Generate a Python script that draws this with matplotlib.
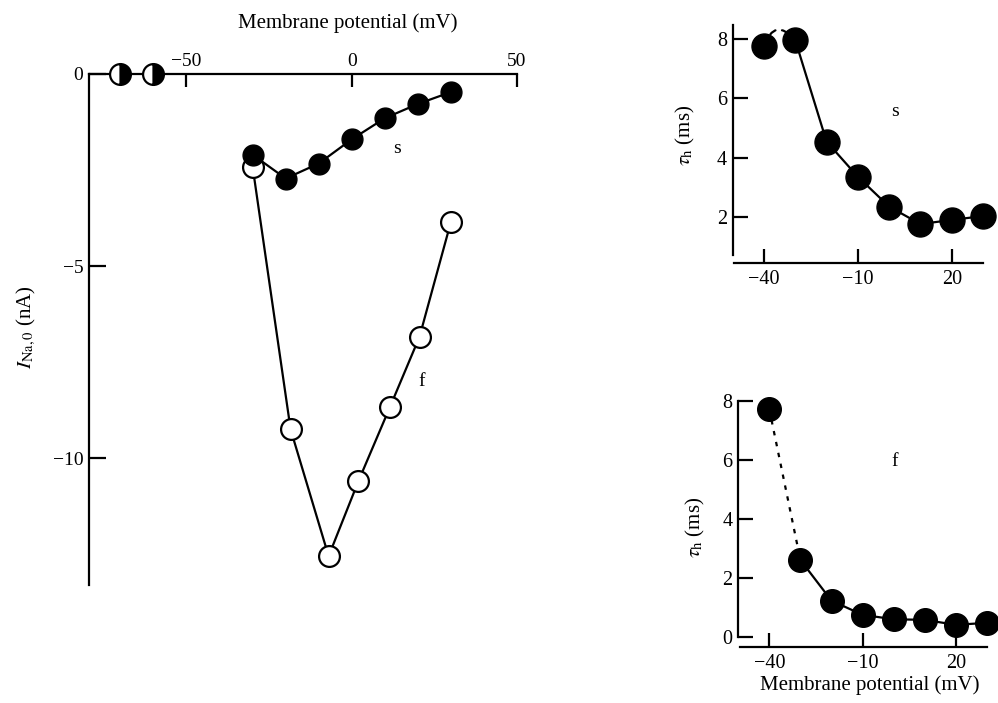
import matplotlib
matplotlib.use('Agg')
import matplotlib.pyplot as plt

plt.rcParams['font.family'] = ['Liberation Serif', 'DejaVu Serif']
plt.rcParams['mathtext.fontset'] = 'stix'
plt.rcParams['font.size'] = 14

# left panel: peak Na current vs membrane potential
half_v = [-70, -60]
half_i = [0, 0]
s_v = [-30, -20, -10, 0, 10, 20, 30]
s_i = [-2.1, -2.72, -2.33, -1.70, -1.15, -0.78, -0.47]
f_v = [-30, -18.5, -7, 2, 11.5, 20.5, 30]
f_i = [-2.41, -9.25, -12.55, -10.6, -8.68, -6.84, -3.85]

# right panels: tau_h vs membrane potential
tau_v = [-40, -30, -20, -10, 0, 10, 20, 30]
tau_s = [7.77, 7.97, 4.54, 3.35, 2.34, 1.75, 1.89, 2.02]
tau_f = [7.71, 2.60, 1.22, 0.74, 0.59, 0.57, 0.40, 0.47]

W, H = 998, 703
fig = plt.figure(figsize=(W / 100, H / 100), dpi=100)


def px_axes(l, t, r, b):
    return fig.add_axes([l / W, 1 - b / H, (r - l) / W, (b - t) / H])


lw = 1.6
# ---- main panel
ax = px_axes(89, 74, 517, 585)
ax.set_xlim(-79.5, 50)
ax.set_ylim(-13.3, 0)
ax.spines['right'].set_visible(False)
ax.spines['bottom'].set_visible(False)
for s in ['top', 'left']:
    ax.spines[s].set_linewidth(lw)
ax.xaxis.tick_top()
ax.set_xticks([-50, 0, 50])
ax.set_yticks([0, -5, -10])
ax.tick_params(axis='x', direction='in', length=9, width=lw, pad=3, labelsize=14)
ax.tick_params(axis='y', direction='in', length=12, width=lw, pad=4, labelsize=14)

ax.plot(s_v, s_i, '-', color='black', lw=lw, zorder=3)
ax.plot(s_v, s_i, 'o', color='black', ms=15, zorder=4, clip_on=False)
ax.plot(f_v, f_i, '-', color='black', lw=lw, zorder=2)
ax.plot(f_v, f_i, 'o', mfc='white', mec='black', mew=1.6, ms=15, zorder=3, clip_on=False)
ax.plot(half_v, half_i, 'o', fillstyle='right', color='black', markerfacecoloralt='white',
        mec='black', mew=1.6, ms=15, zorder=5, clip_on=False)
ax.text(13.7, -1.93, 's', ha='center', va='center', fontsize=14)
ax.text(21.3, -8.0, 'f', ha='center', va='center', fontsize=14)
fig.text(348 / W, 1 - 23 / H, 'Membrane potential (mV)', ha='center', va='center', fontsize=15)
fig.text(26 / W, 1 - 327 / H, r'$I_{\mathrm{Na,0}}$ (nA)', rotation=90,
         ha='center', va='center', fontsize=15)

# ---- right panels
def tau_panel(ax, bounds, yticks):
    ax.set_xlim(-50, 30)
    ax.spines['right'].set_visible(False)
    ax.spines['top'].set_visible(False)
    ax.spines['left'].set_bounds(*bounds)
    ax.spines['bottom'].set_bounds(-49.5, 30)
    for s in ['bottom', 'left']:
        ax.spines[s].set_linewidth(lw)
    ax.set_xticks([-40, -10, 20])
    ax.set_yticks(yticks)
    ax.tick_params(axis='x', direction='in', length=10, width=lw, pad=5, labelsize=14.5)
    ax.tick_params(axis='y', direction='in', length=11, width=lw, pad=4, labelsize=14.5)


ax2 = px_axes(732.7, 24.5, 983, 262.8)
ax2.set_ylim(0.44, 8.5)
tau_panel(ax2, (0.71, 8.5), [2, 4, 6, 8])
ax2.plot(tau_v[1:], tau_s[1:], '-', color='black', lw=lw)
ax2.annotate('', xy=(tau_v[1], tau_s[1]), xytext=(tau_v[0], tau_s[0]),
             arrowprops=dict(arrowstyle='-', linestyle=(0, (3, 3)), lw=lw, color='black',
                             connectionstyle='arc3,rad=-0.85', shrinkA=0, shrinkB=0))
ax2.plot(tau_v, tau_s, 'o', color='black', ms=18, zorder=4, clip_on=False)
ax2.text(2, 5.55, 's', ha='center', va='center', fontsize=14)
fig.text(685 / W, 1 - 135 / H, r'$\tau_{\mathrm{h}}$ (ms)', rotation=90,
         ha='center', va='center', fontsize=15)

ax3 = px_axes(738.2, 400.7, 987, 646.7)
ax3.set_ylim(-0.34, 8.0)
tau_panel(ax3, (0, 8), [0, 2, 4, 6, 8])
ax3.plot(tau_v[:2], tau_f[:2], linestyle=(0, (2, 3)), color='black', lw=lw)
ax3.plot(tau_v[1:], tau_f[1:], '-', color='black', lw=lw)
ax3.plot(tau_v, tau_f, 'o', color='black', ms=17, zorder=4, clip_on=False)
ax3.text(0.3, 5.93, 'f', ha='center', va='center', fontsize=14)
fig.text(695 / W, 1 - 527 / H, r'$\tau_{\mathrm{h}}$ (ms)', rotation=90,
         ha='center', va='center', fontsize=15)
fig.text(870 / W, 1 - 685 / H, 'Membrane potential (mV)', ha='center', va='center', fontsize=15)

fig.savefig('out.png', dpi=100)
